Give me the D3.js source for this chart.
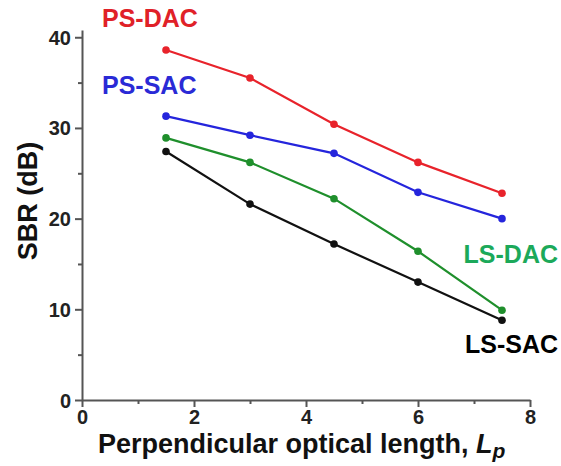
<!DOCTYPE html>
<html>
<head>
<meta charset="utf-8">
<script src="https://cdn.jsdelivr.net/npm/d3@7"></script>
<style>
  body { margin: 0; background: #fff; }
  text { font-family: "Liberation Sans", Arial, sans-serif; font-weight: bold; }
</style>
</head>
<body>
<svg id="chart" width="561" height="466"></svg>
<script>
// Data
const lengths = [1.5, 3, 4.5, 6, 7.5];
const psDac = [38.6, 35.5, 30.4, 26.2, 22.8];
const psSac = [31.3, 29.2, 27.2, 22.9, 20.0];
const lsDac = [28.9, 26.2, 22.2, 16.4, 9.9];
const lsSac = [27.4, 21.6, 17.2, 13.0, 8.8];
const seriesNames = ['PS-DAC', 'PS-SAC', 'LS-DAC', 'LS-SAC'];
const xTicks = [0, 2, 4, 6, 8];
const yTicks = [0, 10, 20, 30, 40];

const margin = { left: 82, right: 31, top: 30, bottom: 66 };
const width = 561, height = 466;
const drawWidth = width - margin.left - margin.right;
const drawHeight = height - margin.top - margin.bottom;

const series = [
  { name: seriesNames[0], values: psDac, color: '#e8232b', labelColor: '#e02128', lx: 102, ly: 27, anchor: 'start' },
  { name: seriesNames[1], values: psSac, color: '#2525dc', labelColor: '#2a2ad6', lx: 102, ly: 94, anchor: 'start' },
  { name: seriesNames[2], values: lsDac, color: '#1f8f2c', labelColor: '#1ca95a', lx: 558, ly: 263, anchor: 'end' },
  { name: seriesNames[3], values: lsSac, color: '#111111', labelColor: '#000000', lx: 558, ly: 353, anchor: 'end' }
];

const svg = d3.select('#chart');

const xScale = d3.scaleLinear().domain([0, 8]).range([0, drawWidth]);
const yScale = d3.scaleLinear().domain([0, 40.8]).range([drawHeight, 0]);

const g = svg.append('g').attr('transform', `translate(${margin.left},${margin.top})`);

// minor ticks
g.append('g')
  .attr('transform', `translate(0,${drawHeight})`)
  .call(d3.axisBottom(xScale).tickValues([1, 3, 5, 7]).tickSize(4).tickFormat(''))
  .call(a => a.select('.domain').remove());
g.append('g')
  .call(d3.axisLeft(yScale).tickValues([5, 15, 25, 35]).tickSize(4).tickFormat(''))
  .call(a => a.select('.domain').remove());

// axes
const xAxis = g.append('g')
  .attr('transform', `translate(0,${drawHeight})`)
  .call(d3.axisBottom(xScale).tickValues(xTicks).tickSize(7).tickSizeOuter(0).tickPadding(3));
const yAxis = g.append('g')
  .call(d3.axisLeft(yScale).tickValues(yTicks).tickSize(7).tickSizeOuter(0).tickPadding(4));

g.selectAll('.tick line, .domain').attr('stroke', '#555').attr('stroke-width', 2);
xAxis.selectAll('text').attr('font-size', 20).attr('fill', '#222');
yAxis.selectAll('text').attr('font-size', 20).attr('fill', '#222').attr('dy', '0.35em');
g.selectAll('.tick text').style('font-family', '"Liberation Sans", Arial, sans-serif').style('font-weight', 'bold');

const line = d3.line()
  .x((d, i) => xScale(lengths[i]))
  .y(d => yScale(d));

series.forEach(s => {
  g.append('path')
    .datum(s.values)
    .attr('fill', 'none')
    .attr('stroke', s.color)
    .attr('stroke-width', 2.2)
    .attr('d', line);

  g.selectAll(null)
    .data(s.values)
    .enter()
    .append('circle')
    .attr('cx', (d, i) => xScale(lengths[i]))
    .attr('cy', d => yScale(d))
    .attr('r', 3.8)
    .attr('fill', s.color);

  svg.append('text')
    .attr('x', s.lx)
    .attr('y', s.ly)
    .attr('text-anchor', s.anchor)
    .attr('font-size', 25)
    .attr('fill', s.labelColor)
    .text(s.name);
});

// Axis titles
svg.append('text')
  .attr('transform', `translate(37, 201) rotate(-90)`)
  .attr('text-anchor', 'middle')
  .attr('font-size', 27)
  .attr('fill', '#111')
  .text('SBR (dB)');

const xTitle = svg.append('text')
  .attr('x', 98)
  .attr('y', 453)
  .attr('text-anchor', 'start')
  .attr('font-size', 27)
  .attr('fill', '#111');
xTitle.append('tspan').text('Perpendicular optical length, ');
xTitle.append('tspan').attr('font-style', 'italic').text('L');
xTitle.append('tspan').attr('font-style', 'italic').attr('font-size', 21).attr('dy', 5).text('p');
</script>
</body>
</html>
